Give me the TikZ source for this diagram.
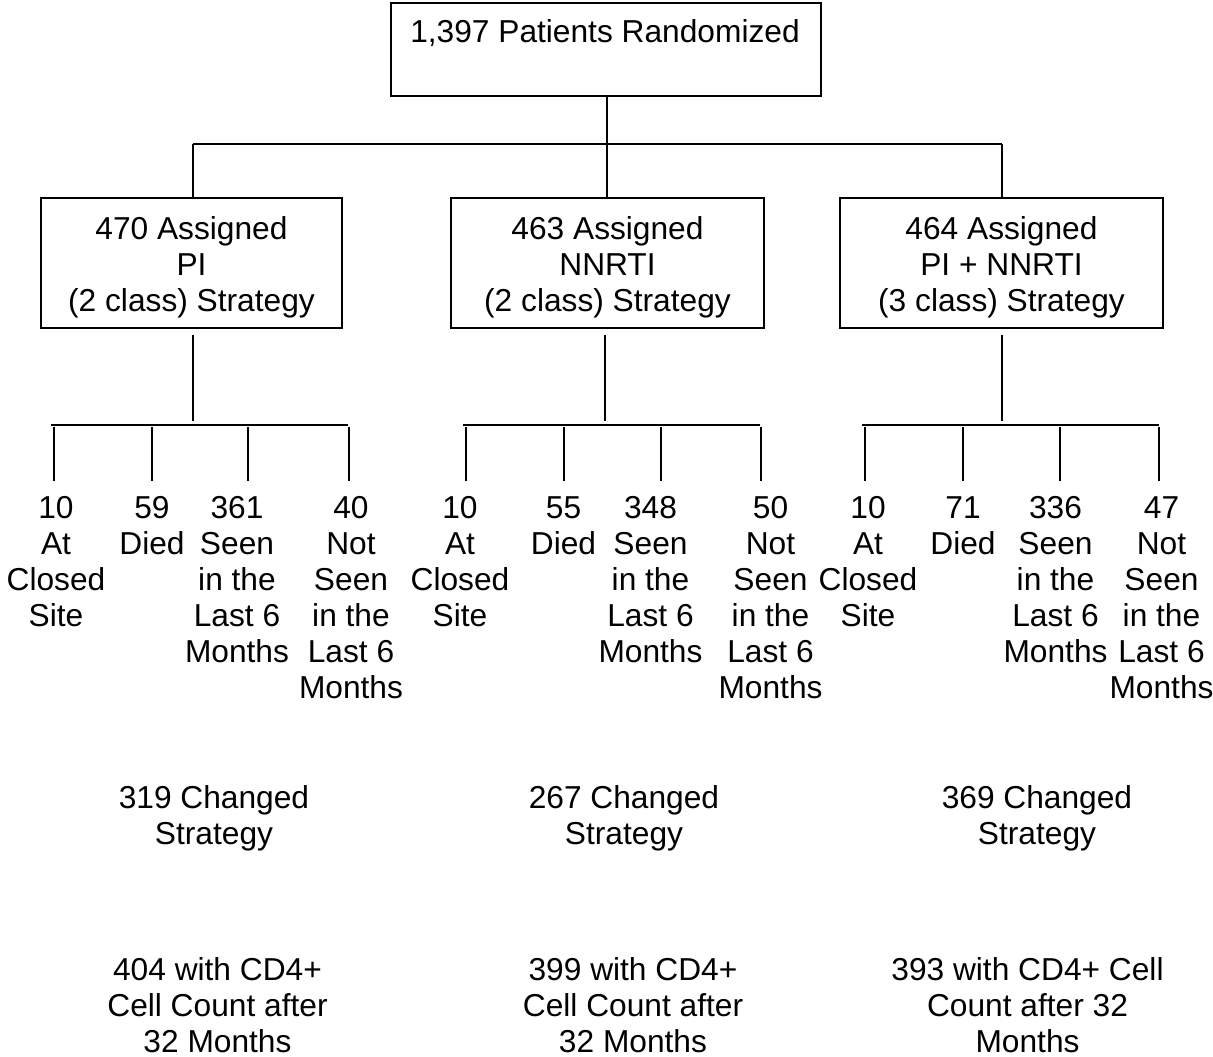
\documentclass[tikz,border=0pt]{standalone}
\usepackage{fontspec}
\setmainfont{Liberation Sans}
\begin{document}
\begin{tikzpicture}[x=1pt,y=-1pt,
  box/.style={draw,line width=1.9pt,rectangle,inner sep=0pt},
  txt/.style={inner sep=0pt,align=center,anchor=north,font=\fontsize{31.7}{36}\selectfont},
  ln/.style={line width=1.9pt}]
\useasboundingbox (0,0) rectangle (1213,1057);

% boxes
\node[box,minimum width=430pt,minimum height=93pt] (top) at (606,49.5) {};
\node[txt] (toptxt) at (605,19) {1,397 Patients Randomized};

\node[box,minimum width=301pt,minimum height=130pt] (pi) at (191.5,263) {};
\node[txt] (pitxt) at (191.5,216) {470 Assigned\\PI\\(2 class) Strategy};
\node[box,minimum width=313pt,minimum height=130pt] (nn) at (607.5,263) {};
\node[txt] (nntxt) at (607.5,216) {463 Assigned\\NNRTI\\(2 class) Strategy};
\node[box,minimum width=323pt,minimum height=130pt] (pn) at (1001.5,263) {};
\node[txt] (pntxt) at (1001.5,216) {464 Assigned\\PI + NNRTI\\(3 class) Strategy};

% top tree
\coordinate (tj) at (607,144);
\coordinate (tl) at (193,144);
\coordinate (tr) at (1002,144);
\draw[ln] (top.south -| tj) -- (tj);
\draw[ln] (tl) -- (tr);
\draw[ln] (tl) -- (tl |- pi.north);
\draw[ln] (tj) -- (tj |- nn.north);
\draw[ln] (tr) -- (tr |- pn.north);

% outcome columns
\node[txt] (a1) at (56,496) {10\\At\\Closed\\Site};
\node[txt] (a2) at (152,496) {59\\Died};
\node[txt] (a3) at (237,496) {361\\Seen\\in the\\Last 6\\Months};
\node[txt] (a4) at (351,496) {40\\Not\\Seen\\in the\\Last 6\\Months};

\node[txt] (b1) at (460,496) {10\\At\\Closed\\Site};
\node[txt] (b2) at (563.5,496) {55\\Died};
\node[txt] (b3) at (650.5,496) {348\\Seen\\in the\\Last 6\\Months};
\node[txt] (b4) at (770.5,496) {50\\Not\\Seen\\in the\\Last 6\\Months};

\node[txt] (c1) at (868,496) {10\\At\\Closed\\Site};
\node[txt] (c2) at (963,496) {71\\Died};
\node[txt] (c3) at (1055.5,496) {336\\Seen\\in the\\Last 6\\Months};
\node[txt] (c4) at (1161.5,496) {47\\Not\\Seen\\in the\\Last 6\\Months};

% left sub-tree
\coordinate (pa) at (193,335);
\coordinate (pb) at (193,421);
\draw[ln] (pa) -- (pb);
\coordinate (pl) at (51,425);
\coordinate (pr) at (348,425);
\draw[ln] (pl) -- (pr);
\foreach \x/\n in {54/1,152/2,248/3,349/4}{
  \coordinate (pd\n) at (\x,427);
  \coordinate (pe\n) at (\x,481);
  \draw[ln] (pd\n) -- (pe\n);
}

% middle sub-tree
\coordinate (na) at (605,335);
\coordinate (nb) at (605,421);
\draw[ln] (na) -- (nb);
\coordinate (nl) at (463,425);
\coordinate (nr) at (760,425);
\draw[ln] (nl) -- (nr);
\foreach \x/\n in {466/1,564/2,661/3,761/4}{
  \coordinate (nd\n) at (\x,427);
  \coordinate (ne\n) at (\x,481);
  \draw[ln] (nd\n) -- (ne\n);
}

% right sub-tree
\coordinate (ra) at (1002,335);
\coordinate (rb) at (1002,421);
\draw[ln] (ra) -- (rb);
\coordinate (rl) at (862,425);
\coordinate (rr) at (1159,425);
\draw[ln] (rl) -- (rr);
\foreach \x/\n in {865/1,963/2,1060/3,1159/4}{
  \coordinate (rd\n) at (\x,427);
  \coordinate (re\n) at (\x,481);
  \draw[ln] (rd\n) -- (re\n);
}

% bottom texts
\node[txt] (ch1) at (214,785) {319 Changed\\Strategy};
\node[txt] (ch2) at (624,785) {267 Changed\\Strategy};
\node[txt] (ch3) at (1037,785) {369 Changed\\Strategy};

\node[txt] (cd1) at (217.5,957) {404 with CD4+\\Cell Count after\\32 Months};
\node[txt] (cd2) at (633,957) {399 with CD4+\\Cell Count after\\32 Months};
\node[txt] (cd3) at (1027.5,957) {393 with CD4+ Cell\\Count after 32\\Months};
\end{tikzpicture}
\end{document}
